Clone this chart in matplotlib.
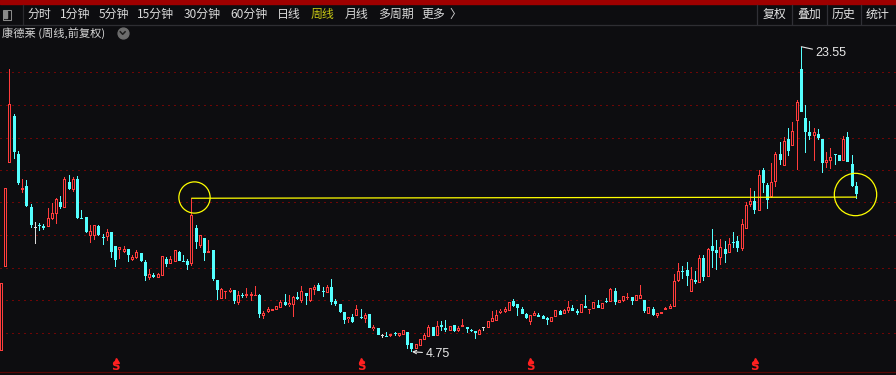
import numpy as np
import matplotlib
matplotlib.use("Agg")
import matplotlib.pyplot as plt
from matplotlib.patches import Rectangle
from matplotlib.lines import Line2D
import matplotlib.transforms as mtransforms

plt.rcParams['font.family'] = ['Noto Sans CJK SC', 'DejaVu Sans']

# ---------------- data (weekly OHLC, forward-adjusted) ----------------
opens = [4.81, 9.95, 16.36, 19.28, 16.94, 14.74, 14.96, 13.67, 12.42, 12.56,
         12.52, 12.46, 12.93, 13.26, 13.98, 13.63, 15.21, 14.74, 15.41, 12.99,
         13.05, 11.90, 11.90, 12.50, 11.84, 11.80, 12.13, 11.27, 11.02, 10.90,
         11.08, 10.40, 10.53, 10.82, 10.30, 9.28, 9.46, 9.31, 9.44, 10.45,
         10.18, 10.30, 10.90, 10.34, 10.34, 10.14, 12.38, 11.25, 11.78, 10.83,
         11.02, 9.17, 7.98, 8.46, 8.43, 8.55, 7.73, 8.26, 8.20, 8.20,
         8.17, 8.25, 6.95, 7.20, 7.28, 7.34, 7.46, 7.80, 7.61, 7.63,
         8.12, 7.88, 8.37, 7.90, 8.55, 8.84, 8.47, 8.39, 8.76, 7.88,
         7.69, 7.20, 6.75, 6.91, 6.95, 6.89, 6.75, 7.07, 6.13, 6.21,
         5.72, 5.72, 5.74, 5.89, 5.74, 5.78, 5.97, 5.27, 4.92, 5.10,
         5.47, 5.68, 6.27, 5.70, 6.38, 6.21, 6.03, 6.40, 6.03, 6.29,
         6.29, 6.05, 6.03, 5.80, 6.24, 6.23, 6.60, 6.66, 7.12, 7.20,
         7.28, 7.90, 7.69, 7.38, 7.07, 6.60, 6.95, 7.01, 6.95, 6.81,
         6.60, 6.87, 7.26, 7.06, 7.26, 7.44, 7.28, 7.12, 7.57, 7.32,
         7.36, 7.63, 7.40, 7.86, 7.83, 8.49, 7.77, 7.90, 8.06, 8.12,
         7.90, 7.98, 7.94, 7.07, 7.38, 6.95, 7.09, 7.30, 7.36, 7.52,
         9.13, 9.74, 9.79, 8.45, 9.19, 8.97, 10.53, 9.37, 11.27, 11.02,
         10.55, 11.08, 10.85, 11.49, 11.57, 11.10, 12.33, 13.78, 14.04, 13.44,
         15.95, 15.03, 14.27, 15.23, 16.94, 16.22, 17.86, 17.45, 18.97, 22.16,
         19.14, 18.29, 18.07, 18.17, 17.88, 16.40, 16.52, 16.92, 16.86, 16.52,
         17.99, 16.32, 14.98]
highs = [8.97, 14.82, 22.18, 19.40, 17.12, 15.40, 15.34, 13.86, 12.75, 12.70,
         12.60, 13.59, 13.90, 14.24, 14.35, 15.52, 15.62, 15.52, 15.58, 13.49,
         13.05, 12.56, 12.56, 12.58, 11.99, 12.31, 12.13, 11.27, 11.19, 11.27,
         11.08, 10.69, 11.02, 10.82, 10.39, 9.83, 9.58, 9.60, 10.65, 10.57,
         10.65, 11.00, 10.96, 10.71, 10.45, 14.21, 12.56, 11.94, 11.78, 11.64,
         11.02, 9.17, 8.70, 8.49, 8.66, 8.55, 8.47, 8.39, 8.68, 8.43,
         8.80, 8.29, 7.26, 7.51, 7.38, 7.57, 7.92, 8.31, 8.25, 8.18,
         8.43, 8.80, 8.37, 8.68, 8.86, 8.99, 8.76, 8.86, 9.23, 8.00,
         7.69, 7.20, 6.89, 7.06, 7.63, 7.36, 7.15, 7.07, 6.40, 6.21,
         5.82, 5.97, 5.84, 5.98, 5.92, 6.09, 5.97, 5.27, 5.23, 5.53,
         5.89, 6.40, 6.27, 6.63, 6.64, 6.71, 6.34, 6.40, 6.35, 6.77,
         6.29, 6.17, 6.03, 6.15, 6.29, 6.64, 7.26, 7.32, 7.36, 7.49,
         7.81, 8.00, 7.69, 7.51, 7.14, 7.01, 7.26, 7.12, 7.01, 6.87,
         6.91, 7.30, 7.32, 7.38, 7.88, 7.61, 7.36, 7.69, 8.25, 7.36,
         7.80, 7.94, 7.77, 8.04, 8.70, 8.66, 7.94, 8.18, 8.35, 8.12,
         8.25, 8.86, 7.94, 7.49, 7.52, 7.12, 7.22, 7.52, 7.69, 9.54,
         10.24, 10.03, 10.28, 9.95, 9.73, 10.69, 10.69, 11.16, 12.30, 11.64,
         11.68, 11.57, 11.74, 12.13, 11.88, 12.93, 13.96, 14.84, 14.66, 15.95,
         16.07, 15.17, 16.36, 17.06, 17.70, 18.00, 18.56, 18.93, 20.27, 23.55,
         19.96, 18.97, 18.56, 18.46, 17.88, 17.04, 17.33, 16.94, 16.86, 18.07,
         18.29, 16.88, 15.21]
lows = [4.81, 9.95, 16.36, 16.63, 15.03, 14.51, 13.69, 12.38, 11.41, 12.21,
        12.25, 12.44, 12.87, 12.62, 13.57, 13.61, 14.74, 14.61, 12.91, 12.93,
        12.07, 11.45, 11.64, 11.88, 11.33, 11.59, 10.55, 9.99, 10.48, 10.82,
        10.30, 10.36, 10.47, 10.30, 9.13, 9.17, 9.29, 9.31, 9.44, 9.95,
        10.18, 10.30, 10.36, 10.28, 9.79, 10.03, 11.11, 11.14, 10.34, 10.82,
        9.13, 7.94, 7.98, 7.98, 8.35, 7.71, 7.65, 8.08, 8.06, 7.90,
        8.17, 6.85, 6.79, 7.12, 7.28, 7.34, 7.46, 7.57, 7.52, 6.91,
        7.94, 7.73, 7.65, 7.83, 8.25, 8.49, 8.14, 8.39, 7.65, 7.59,
        7.12, 6.44, 6.54, 6.50, 6.95, 6.75, 6.50, 6.23, 6.03, 5.80,
        5.58, 5.68, 5.68, 5.72, 5.68, 5.78, 4.92, 4.75, 4.92, 5.10,
        5.47, 5.68, 5.74, 5.70, 6.05, 5.97, 6.03, 5.98, 5.97, 6.26,
        5.92, 5.98, 5.52, 5.80, 6.05, 6.23, 6.60, 6.66, 7.06, 7.15,
        7.28, 7.52, 6.95, 7.07, 6.79, 6.40, 6.95, 6.87, 6.75, 6.40,
        6.60, 6.87, 7.01, 7.06, 7.12, 7.26, 7.01, 7.12, 7.46, 7.06,
        7.36, 7.43, 7.40, 7.77, 7.83, 7.63, 7.77, 7.83, 7.94, 7.63,
        7.90, 7.98, 7.15, 7.07, 6.95, 6.85, 7.09, 7.30, 7.36, 7.52,
        9.07, 9.23, 8.82, 8.45, 8.92, 8.97, 9.13, 9.37, 9.93, 9.79,
        10.10, 10.24, 10.85, 11.16, 10.92, 10.96, 12.33, 13.65, 13.22, 13.44,
        14.51, 13.53, 14.21, 14.90, 16.26, 16.22, 16.81, 17.43, 15.95, 19.53,
        16.98, 17.80, 16.52, 17.80, 15.79, 16.06, 15.99, 16.26, 16.49, 16.52,
        16.43, 14.88, 14.16]
closes = [8.97, 14.82, 20.02, 17.08, 15.17, 14.86, 13.75, 12.58, 12.42, 12.50,
          12.39, 12.97, 13.30, 14.16, 13.67, 15.40, 14.78, 15.40, 13.01, 12.95,
          12.13, 12.19, 12.56, 11.94, 11.80, 12.13, 10.92, 10.40, 11.19, 11.08,
          10.69, 10.57, 10.90, 10.34, 9.44, 9.52, 9.37, 9.54, 10.65, 10.18,
          10.45, 11.00, 10.36, 10.30, 10.11, 13.16, 11.53, 11.94, 10.85, 10.96,
          9.21, 8.55, 8.62, 8.49, 8.57, 7.90, 8.25, 8.20, 8.33, 8.33,
          8.25, 7.09, 7.15, 7.40, 7.38, 7.57, 7.81, 7.63, 7.75, 8.14,
          8.02, 8.49, 8.17, 8.68, 8.76, 8.51, 8.43, 8.72, 7.80, 7.67,
          7.22, 6.71, 6.89, 6.60, 7.36, 6.83, 7.01, 6.23, 6.29, 5.80,
          5.72, 5.68, 5.84, 5.84, 5.92, 6.09, 5.16, 4.92, 5.23, 5.53,
          5.76, 6.29, 5.74, 6.35, 6.29, 6.09, 6.34, 6.03, 6.23, 6.42,
          6.17, 6.01, 5.89, 6.09, 6.24, 6.64, 6.81, 7.03, 7.28, 7.36,
          7.81, 7.57, 7.43, 7.07, 6.83, 7.01, 7.12, 6.89, 6.75, 6.71,
          6.91, 7.30, 7.01, 7.32, 7.51, 7.28, 7.15, 7.69, 7.46, 7.36,
          7.80, 7.43, 7.77, 7.81, 8.60, 7.83, 7.94, 8.18, 8.12, 7.90,
          8.25, 8.25, 7.26, 7.49, 7.01, 7.12, 7.22, 7.43, 7.57, 9.11,
          9.73, 9.71, 9.44, 9.23, 9.07, 10.53, 9.37, 11.08, 10.98, 10.85,
          11.20, 10.79, 11.37, 11.45, 11.16, 12.60, 13.78, 14.02, 13.49, 15.64,
          15.17, 14.10, 15.19, 16.92, 16.57, 17.74, 17.12, 18.36, 20.16, 19.54,
          18.31, 18.07, 18.29, 17.92, 16.40, 16.57, 16.77, 16.86, 16.49, 17.86,
          16.43, 14.98, 14.47]

title_text = "康德莱 (周线,前复权)"
tabs = ["分时", "1分钟", "5分钟", "15分钟", "30分钟", "60分钟", "日线", "周线", "月线", "多周期", "更多", "〉"]
tab_x = [27, 60, 99, 137, 184, 230, 277, 311, 345, 378, 421, 449]
active_tab = "周线"
right_btns = ["复权", "叠加", "历史", "统计"]
right_x = [763, 797, 832, 866]
signal_idx = [27, 85, 125, 178]
ref_idx = 45                     # breakout week whose high is marked
level_line = [14.21, 14.28]      # yellow neckline price at start / end
grid_levels = [21.97, 19.95, 17.95, 15.93, 13.95, 11.93, 9.94, 7.92, 5.90]
peak_label = "23.55"
trough_label = "4.75"

# ---------------- styling ----------------
W, H = 896, 375
BG = '#0d0d10'
UP = '#ff3c3c'
DN = '#54ffff'
DJ = '#dcdcdc'
YEL = '#ffff00'

fig = plt.figure(figsize=(W / 100, H / 100), dpi=100)
fig.patch.set_facecolor(BG)
ax = fig.add_axes([0, 0, 1, 1])
ax.set_facecolor(BG)
ax.set_xlim(-0.354, 211.37)
ax.set_ylim(3.315, 26.43)
ax.axis('off')


def fx(px):
    return px / W


def fy(py):
    return 1 - py / H


# helpers to keep candle bodies on whole device pixels
T = ax.transData
Tinv = T.inverted()
px_per_price = abs(T.transform((0, 1))[1] - T.transform((0, 0))[1])
one_px_y = 1.0 / px_per_price


def xd(px):
    return Tinv.transform((px, 0))[0]


def box(x0px, x1px, y0, y1, color, z):
    if y1 - y0 < one_px_y:
        mid = 0.5 * (y0 + y1)
        y0, y1 = mid - 0.5 * one_px_y, mid + 0.5 * one_px_y
    ax.add_patch(Rectangle((xd(x0px), y0), xd(x1px) - xd(x0px), y1 - y0, facecolor=color,
                           edgecolor='none', lw=0, antialiased=False, zorder=z))


# grid
for g in grid_levels:
    ax.axhline(g, color='#6e0606', lw=0.75, ls=(0, (1.0, 4.4)), zorder=1, antialiased=False)
ax.axhline(3.52, color='#5a0606', lw=0.9, zorder=1)

# candles
n = len(opens)
for i, (o, h, l, c) in enumerate(zip(opens, highs, lows, closes)):
    cpx = np.floor(T.transform((i, 0))[0])          # left edge of centre pixel column
    top, bot = max(o, c), min(o, c)
    col = UP if c > o else (DN if c < o else DJ)
    # wick (1 px wide)
    box(cpx, cpx + 1, l, h, col, 2)
    if c > o:
        box(cpx - 1, cpx + 2, bot, top, UP, 3)
        if top - bot > 2.2 * one_px_y:
            box(cpx, cpx + 1, bot + one_px_y, top - one_px_y, BG, 4)
    elif c < o:
        box(cpx - 1, cpx + 2, bot, top, DN, 3)
    else:
        box(cpx - 1, cpx + 2, o, o, DJ, 3)

# yellow neckline and highlight circles
ax.plot([ref_idx, n - 1], level_line, color=YEL, lw=0.9, zorder=5)
ax.plot([ref_idx + 0.5], [highs[ref_idx] + 0.08], marker='o', ms=22.5, mfc='none',
        mec=YEL, mew=0.9, zorder=6)
ax.plot([n - 1.3], [level_line[1] + 0.19], marker='o', ms=30.5, mfc='none',
        mec=YEL, mew=0.9, zorder=6)

# extreme labels
imax = highs.index(max(highs))
imin = lows.index(min(lows))
ax.annotate(peak_label, xy=(imax, highs[imax]), xytext=(10.0, -4.6), textcoords='offset points',
            color='#e8e8e8', fontsize=9, family=['Liberation Sans', 'DejaVu Sans'],
            va='center', ha='left',
            arrowprops=dict(arrowstyle='-', color='#e8e8e8', lw=0.8, shrinkA=0, shrinkB=0))
ax.annotate(trough_label, xy=(imin, lows[imin]), xytext=(9.5, -1.3), textcoords='offset points',
            color='#e8e8e8', fontsize=9, family=['Liberation Sans', 'DejaVu Sans'],
            va='center', ha='left',
            arrowprops=dict(arrowstyle='->', color='#e8e8e8', lw=0.8, shrinkA=0, shrinkB=0,
                            mutation_scale=6))

# S signals
blend = mtransforms.blended_transform_factory(ax.transData, ax.transAxes)
for si in signal_idx:
    ax.text(si, 1 - 366 / H, "S", transform=blend, ha='center', va='center', color='#ff2020',
            fontsize=8.5, fontweight='bold', family=['DejaVu Sans'], zorder=6)
    ax.plot([si], [1 - 359.5 / H], transform=blend, marker='^', ms=3.6, color='#ff2020',
            mec='#ff2020', zorder=6)

# ---------------- header ----------------
fig.add_artist(Rectangle((0, fy(3.5)), 1, 3.5 / H, transform=fig.transFigure,
                         color='#9e0000', zorder=10))
fig.add_artist(Line2D([0, 1], [fy(24.5), fy(24.5)], transform=fig.transFigure,
                      color='#2e2e33', lw=0.9, zorder=10))
# layout icon
fig.add_artist(Rectangle((fx(3), fy(19.5)), 7.5 / W, 10 / H, transform=fig.transFigure,
                         fill=False, edgecolor='#8a8a8a', lw=0.75, zorder=10))
fig.add_artist(Rectangle((fx(4.3), fy(18.3)), 2.2 / W, 7.6 / H, transform=fig.transFigure,
                         color='#8a8a8a', zorder=10))
fig.add_artist(Line2D([fx(22.5), fx(22.5)], [fy(5), fy(24)], transform=fig.transFigure,
                      color='#2a2a2e', lw=0.9, zorder=10))
for sx in [757, 792, 827, 861]:
    fig.add_artist(Line2D([fx(sx), fx(sx)], [fy(5), fy(24)], transform=fig.transFigure,
                          color='#303036', lw=0.9, zorder=10))

for t, x in zip(tabs, tab_x):
    fig.text(fx(x), fy(14.3), t, color='#c8c814' if t == active_tab else '#dadada',
             fontsize=8.6, ha='left', va='center', zorder=11)
for t, x in zip(right_btns, right_x):
    fig.text(fx(x), fy(14.3), t, color='#e2e2e2', fontsize=8.6, ha='left', va='center', zorder=11)

fig.text(fx(1.5), fy(33), title_text, color='#d4d4d4', fontsize=8.1, ha='left', va='center', zorder=11)
fig.add_artist(Line2D([fx(122.7)], [fy(33)], transform=fig.transFigure, marker='o', ms=7.8,
                      color='#6c6c6c', zorder=11))
fig.add_artist(Line2D([fx(120.3), fx(122.7), fx(125.1)], [fy(31.8), fy(34.3), fy(31.8)],
                      transform=fig.transFigure, color='#1c1c1c', lw=1.1, zorder=12))

fig.savefig('out.png', dpi=100, facecolor=BG)
